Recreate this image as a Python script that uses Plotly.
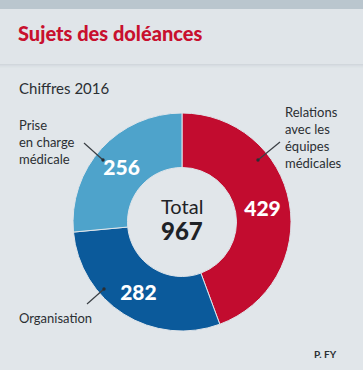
import plotly.graph_objects as go

categories = ["Relations avec les équipes médicales", "Organisation", "Prise en charge médicale"]
values = [429, 282, 256]
colors = ["#c20c2f", "#0b5a9b", "#4ea3cb"]
total = sum(values)

W, H = 363, 370
BG = "#e1e6ea"

def px(x):
    return x / W

def py(y):
    return 1 - y / H

fig = go.Figure()
fig.add_trace(go.Pie(
    labels=categories,
    values=values,
    hole=0.5,
    sort=False,
    direction="clockwise",
    rotation=0,
    marker=dict(colors=colors, line=dict(color="#dfe5ea", width=1)),
    textinfo="value",
    textposition="inside",
    insidetextorientation="horizontal",
    textfont=dict(family="Lato", size=21, color="white", weight=900),
    showlegend=False,
    hoverinfo="skip",
    domain=dict(x=[px(73), px(291)], y=[py(331), py(113)]),
))

shapes = []
shapes.append(dict(type="rect", xref="paper", yref="paper", x0=0, x1=1, y0=py(9), y1=1,
                   fillcolor="#bac6ce", line=dict(width=0), layer="below"))
shapes.append(dict(type="rect", xref="paper", yref="paper", x0=0, x1=1, y0=py(64), y1=py(9),
                   fillcolor="#e0e5e9", line=dict(width=0), layer="below"))
for i, op in enumerate([0.22, 0.14, 0.08, 0.04]):
    shapes.append(dict(type="rect", xref="paper", yref="paper", x0=0, x1=1,
                       y0=py(64 + i + 1), y1=py(64 + i),
                       fillcolor="#9aa6ae", opacity=op, line=dict(width=0), layer="below"))

leaders = [
    ((84, 143), (103, 160)),
    ((280, 142), (258, 160)),
    ((87, 304), (104, 289)),
]
for (x0, y0), (x1, y1) in leaders:
    shapes.append(dict(type="line", xref="paper", yref="paper",
                       x0=px(x0), y0=py(y0), x1=px(x1), y1=py(y1),
                       line=dict(color="#3a3f44", width=1.2)))
    r = 1.7
    shapes.append(dict(type="circle", xref="paper", yref="paper",
                       x0=px(x1 - r), x1=px(x1 + r), y0=py(y1 + r), y1=py(y1 - r),
                       fillcolor="#2a2e33", line=dict(width=0)))

fig.update_layout(shapes=shapes)

FONT = "Lato"
TXT = "#2b2f33"
annotations = [
    dict(x=px(16), y=py(33), text="Sujets des doléances", xanchor="left", yanchor="middle",
         font=dict(family=FONT, size=20, color="#c8102e", weight=900)),
    dict(x=px(17), y=py(88), text="Chiffres 2016", xanchor="left", yanchor="middle",
         font=dict(family=FONT, size=15, color=TXT)),
    dict(x=px(17), y=py(142), text="Prise<br>en charge<br>médicale", xanchor="left", yanchor="middle",
         align="left", font=dict(family=FONT, size=13, color=TXT)),
    dict(x=px(283), y=py(137), text="Relations<br>avec les<br>équipes<br>médicales", xanchor="left",
         yanchor="middle", align="left", font=dict(family=FONT, size=13, color=TXT)),
    dict(x=px(17), y=py(318), text="Organisation", xanchor="left", yanchor="middle",
         font=dict(family=FONT, size=13, color=TXT)),
    dict(x=px(182), y=py(206), text="Total", xanchor="center", yanchor="middle",
         font=dict(family=FONT, size=20, color="#1e2226")),
    dict(x=px(182), y=py(231), text=str(total), xanchor="center", yanchor="middle",
         font=dict(family=FONT, size=24, color="#1e2226", weight=900)),
    dict(x=px(339), y=py(354), text="<b>P. FY</b>", xanchor="right", yanchor="middle",
         font=dict(family=FONT, size=10, color="#2b2f33")),
]
for a in annotations:
    a.update(xref="paper", yref="paper", showarrow=False)
fig.update_layout(annotations=annotations)

fig.update_layout(
    width=W, height=H,
    margin=dict(l=0, r=0, t=0, b=0),
    paper_bgcolor=BG, plot_bgcolor=BG,
)
fig.write_html("out.html", config={"displayModeBar": False},
               post_script="document.body.style.margin='0';document.body.style.overflow='hidden';")
